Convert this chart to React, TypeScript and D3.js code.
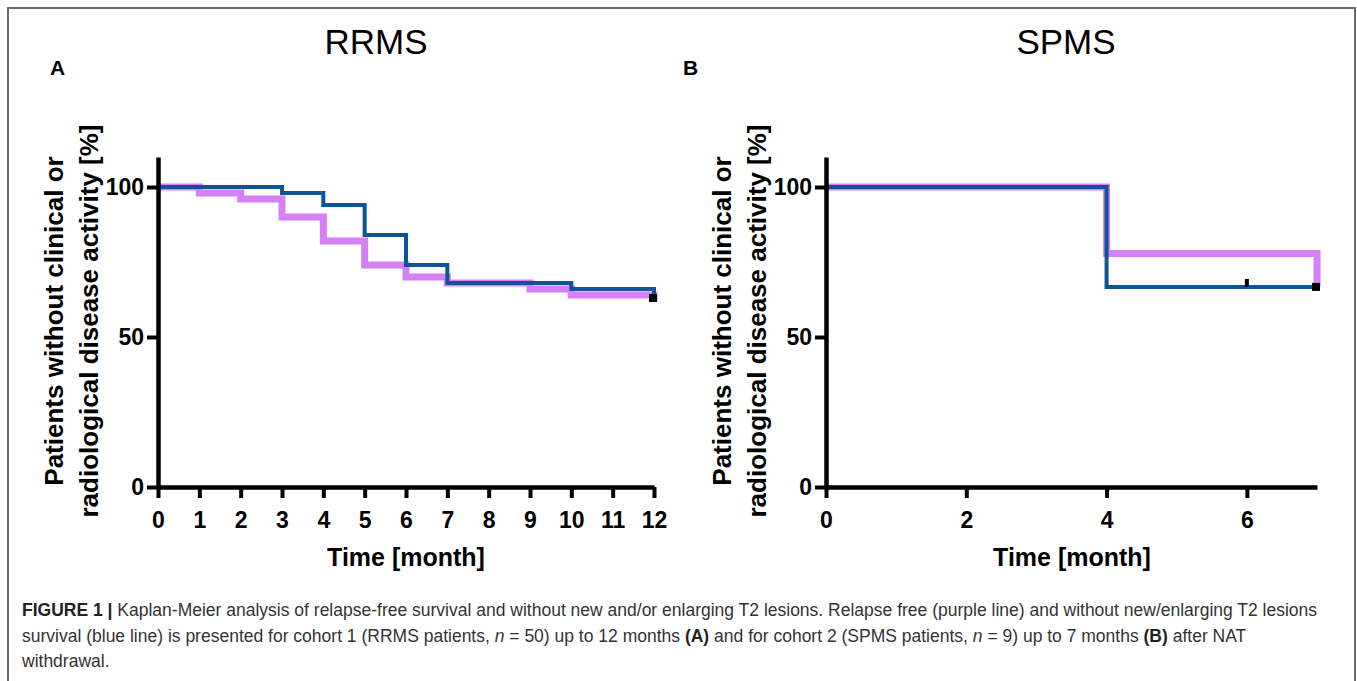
import { useRef, useEffect } from "react";
import * as d3 from "d3";

// y axis ticks shared by both panels
const yTicks = [0, 50, 100];

// panel A: RRMS, n = 50
const rrmsTicks = [0, 1, 2, 3, 4, 5, 6, 7, 8, 9, 10, 11, 12];
const rrmsRelapseTimes = [0, 1, 2, 3, 4, 5, 6, 7, 9, 10, 12];
const rrmsRelapseValues = [100, 98, 96, 90, 82, 74, 70, 68, 66, 64, 62];
const rrmsLesionTimes = [0, 3, 4, 5, 6, 7, 10, 12];
const rrmsLesionValues = [100, 98, 94, 84, 74, 68, 66, 64];
const rrmsCensorTimes: number[] = [];
const rrmsCensorValues: number[] = [];
const rrmsEndTimes = [12];
const rrmsEndValues = [63];

// panel B: SPMS, n = 9
const spmsTicks = [0, 2, 4, 6];
const spmsRelapseTimes = [0, 4, 7];
const spmsRelapseValues = [100, 77.8, 66.7];
const spmsLesionTimes = [0, 4, 7];
const spmsLesionValues = [100, 66.7, 66.7];
const spmsCensorTimes = [6];
const spmsCensorValues = [66.7];
const spmsEndTimes = [7];
const spmsEndValues = [66.7];

const PURPLE = "#d580f6";
const BLUE = "#0d5596";
const FONT = "'Liberation Sans', Arial, Helvetica, sans-serif";

const zip = (ts: number[], vs: number[]) => ts.map((t, i) => [t, vs[i]] as [number, number]);

const Panel = ({ left, right, xMax, xTicks, relapse, lesion, censor, ends }) => {
  const ref = useRef<SVGGElement>(null);

  useEffect(() => {
    const g = d3.select(ref.current);
    g.selectAll("*").remove();

    const x = d3.scaleLinear().domain([0, xMax]).range([left, right]);
    const y = d3.scaleLinear().domain([0, 110]).range([487, 157]);

    const line = d3.line<[number, number]>()
      .x((d) => x(d[0]))
      .y((d) => y(d[1]))
      .curve(d3.curveStepAfter);

    g.append("path")
      .attr("d", line(relapse))
      .attr("fill", "none")
      .attr("stroke", PURPLE)
      .attr("stroke-width", 7);

    g.append("path")
      .attr("d", line(lesion))
      .attr("fill", "none")
      .attr("stroke", BLUE)
      .attr("stroke-width", 4);

    const xAxis = g.append("g")
      .attr("transform", "translate(0,487)")
      .call(d3.axisBottom(x).tickValues(xTicks).tickFormat(d3.format("d")).tickSize(11).tickSizeOuter(0).tickPadding(14));

    const yAxis = g.append("g")
      .attr("transform", `translate(${left},0)`)
      .call(d3.axisLeft(y).tickValues(yTicks).tickFormat(d3.format("d")).tickSize(11).tickSizeOuter(0).tickPadding(3));

    [xAxis, yAxis].forEach((a) => {
      a.select(".domain").attr("stroke", "#000").attr("stroke-width", 4.5);
      a.selectAll(".tick line").attr("stroke", "#000").attr("stroke-width", 4);
      a.selectAll(".tick text")
        .attr("fill", "#000")
        .attr("font-family", FONT)
        .attr("font-weight", "bold")
        .attr("font-size", 23);
    });

    g.selectAll(".censor")
      .data(censor)
      .join("rect")
      .attr("class", "censor")
      .attr("x", (d) => x(d[0]) - 2)
      .attr("y", (d) => y(d[1]) - 8)
      .attr("width", 4)
      .attr("height", 8)
      .attr("fill", "#000");

    g.selectAll(".end")
      .data(ends)
      .join("rect")
      .attr("class", "end")
      .attr("x", (d) => x(d[0]) - 5)
      .attr("y", (d) => y(d[1]) - 4)
      .attr("width", 8)
      .attr("height", 8)
      .attr("fill", "#000");
  }, []);

  return <g ref={ref} />;
};

const YTitle = ({ x }) => (
  <g fontFamily={FONT} fontWeight="bold" fontSize={26} fill="#000" textAnchor="middle">
    <text transform={`translate(${x},321) rotate(-90)`}>Patients without clinical or</text>
    <text transform={`translate(${x + 35},321) rotate(-90)`}>radiological disease activity [%]</text>
  </g>
);

export default function App() {
  return (
    <svg
      width={1357}
      height={681}
      style={{ position: "absolute", left: 0, top: 0, background: "#fff", display: "block" }}
    >
      <path d="M8,681V8H1355V681" fill="none" stroke="#6a6a6a" strokeWidth={2} />

      <g fontFamily={FONT} fill="#000">
        <text x={376} y={54} fontSize={35} textAnchor="middle">RRMS</text>
        <text x={1066} y={54} fontSize={35} textAnchor="middle">SPMS</text>
        <text x={50} y={75} fontSize={21} fontWeight="bold">A</text>
        <text x={683} y={75} fontSize={21} fontWeight="bold">B</text>
        <text x={406} y={566} fontSize={25} fontWeight="bold" textAnchor="middle">Time [month]</text>
        <text x={1072} y={566} fontSize={25} fontWeight="bold" textAnchor="middle">Time [month]</text>
      </g>

      <YTitle x={63} />
      <YTitle x={731} />

      <Panel
        left={158}
        right={654}
        xMax={12}
        xTicks={rrmsTicks}
        relapse={zip(rrmsRelapseTimes, rrmsRelapseValues)}
        lesion={zip(rrmsLesionTimes, rrmsLesionValues)}
        censor={zip(rrmsCensorTimes, rrmsCensorValues)}
        ends={zip(rrmsEndTimes, rrmsEndValues)}
      />
      <Panel
        left={826}
        right={1317}
        xMax={7}
        xTicks={spmsTicks}
        relapse={zip(spmsRelapseTimes, spmsRelapseValues)}
        lesion={zip(spmsLesionTimes, spmsLesionValues)}
        censor={zip(spmsCensorTimes, spmsCensorValues)}
        ends={zip(spmsEndTimes, spmsEndValues)}
      />

      <g fontFamily={FONT} fontSize={17.5} fill="#333">
        <text x={22} y={616}>
          <tspan fontWeight="bold" fill="#222">FIGURE 1 |</tspan> Kaplan-Meier analysis of relapse-free survival and without new and/or enlarging T2 lesions. Relapse free (purple line) and without new/enlarging T2 lesions
        </text>
        <text x={22} y={642}>
          survival (blue line) is presented for cohort 1 (RRMS patients, <tspan fontStyle="italic">n</tspan> = 50) up to 12 months <tspan fontWeight="bold" fill="#222">(A)</tspan> and for cohort 2 (SPMS patients, <tspan fontStyle="italic">n</tspan> = 9) up to 7 months <tspan fontWeight="bold" fill="#222">(B)</tspan> after NAT
        </text>
        <text x={22} y={667}>withdrawal.</text>
      </g>
    </svg>
  );
}
